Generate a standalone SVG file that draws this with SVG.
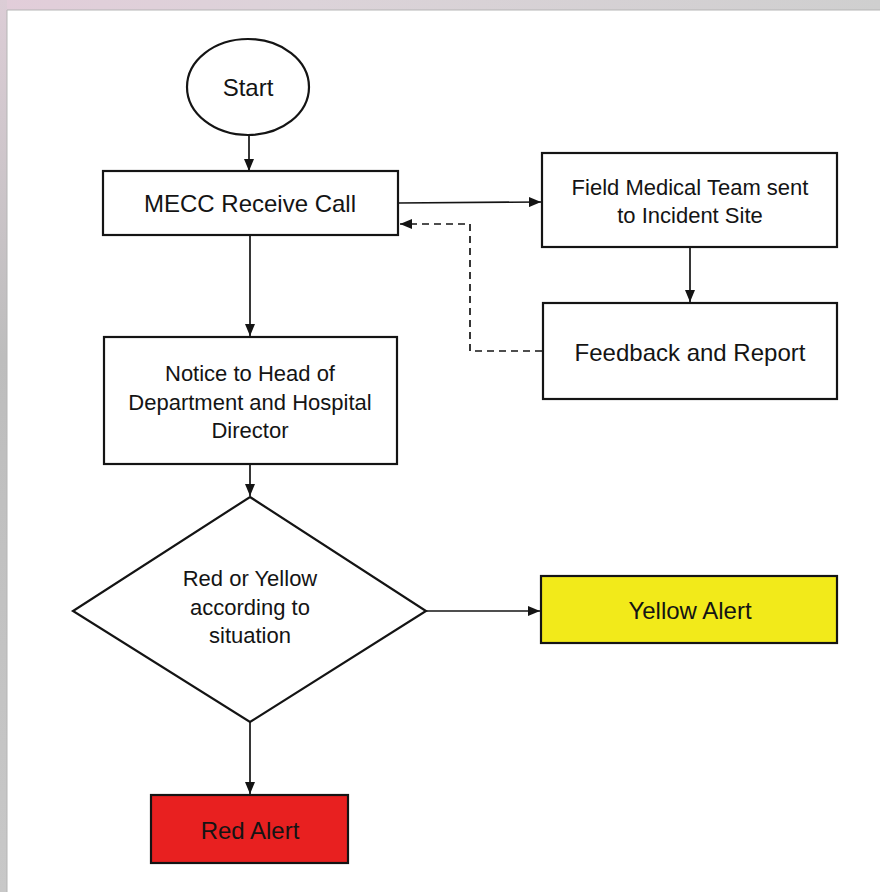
<svg xmlns="http://www.w3.org/2000/svg" width="880" height="892" viewBox="0 0 880 892">
<style>
.box{fill:#fff;stroke:#141414;stroke-width:2.2}
.lbl{font-family:"Liberation Sans",Arial,sans-serif;fill:#141414;text-anchor:middle;dominant-baseline:central}
.big{font-size:24px}
.mid{font-size:22px}
.con{fill:none;stroke:#141414;stroke-width:1.7}
.dash{stroke-dasharray:7,5}
</style>
<defs>
<marker id="ah" viewBox="0 0 12 10" refX="12" refY="5" markerWidth="12" markerHeight="10" markerUnits="userSpaceOnUse" orient="auto">
<path d="M0,0 L12,5 L0,10 z" fill="#141414"/>
</marker>
<linearGradient id="topg" x1="0" y1="0" x2="1" y2="0">
<stop offset="0" stop-color="#e2cdd9"/>
<stop offset="0.35" stop-color="#dcd3d9"/>
<stop offset="1" stop-color="#cfcfcf"/>
</linearGradient>
<linearGradient id="leftg" x1="0" y1="0" x2="0" y2="1">
<stop offset="0" stop-color="#dccdd6"/>
<stop offset="0.4" stop-color="#bdbdbd"/>
<stop offset="1" stop-color="#c8c8c8"/>
</linearGradient>
</defs>
<rect x="0" y="0" width="880" height="892" fill="#fff"/>
<rect x="0" y="0" width="880" height="10" fill="url(#topg)"/>
<rect x="0" y="0" width="7" height="892" fill="url(#leftg)"/>
<rect x="7" y="10" width="873" height="882" fill="#fff"/>
<line x1="7" y1="10" x2="880" y2="10" stroke="#b5b5b5" stroke-width="1"/>
<line x1="7" y1="10" x2="7" y2="892" stroke="#b5b5b5" stroke-width="1"/>

<g id="connectors">
<line class="con" x1="249" y1="135" x2="249" y2="171" marker-end="url(#ah)"/>
<line class="con" x1="398" y1="203" x2="541" y2="202" marker-end="url(#ah)"/>
<polyline class="con dash" points="542,351 470,351 470,224 400,224" marker-end="url(#ah)"/>
<line class="con" x1="690" y1="247" x2="690" y2="302" marker-end="url(#ah)"/>
<line class="con" x1="250" y1="235" x2="250" y2="336" marker-end="url(#ah)"/>
<line class="con" x1="250" y1="464" x2="250" y2="496" marker-end="url(#ah)"/>
<line class="con" x1="426" y1="611" x2="540" y2="611" marker-end="url(#ah)"/>
<line class="con" x1="250" y1="722" x2="250" y2="794" marker-end="url(#ah)"/>
</g>

<g id="start">
<ellipse class="box" cx="248" cy="87" rx="61" ry="48"/>
<text class="lbl big" x="248" y="87">Start</text>
</g>
<g id="mecc">
<rect class="box" x="103" y="171" width="295" height="64"/>
<text class="lbl big" x="250" y="203">MECC Receive Call</text>
</g>
<g id="field">
<rect class="box" x="542" y="153" width="295" height="94"/>
<text class="lbl mid" x="690" y="187">Field Medical Team sent</text>
<text class="lbl mid" x="690" y="215">to Incident Site</text>
</g>
<g id="feedback">
<rect class="box" x="543" y="303" width="294" height="96"/>
<text class="lbl big" x="690" y="352">Feedback and Report</text>
</g>
<g id="notice">
<rect class="box" x="104" y="337" width="293" height="127"/>
<text class="lbl mid" x="250" y="373">Notice to Head of</text>
<text class="lbl mid" x="250" y="402">Department and Hospital</text>
<text class="lbl mid" x="250" y="430">Director</text>
</g>
<g id="decision">
<polygon class="box" points="250,497 426,611 250,722 73,611"/>
<text class="lbl mid" x="250" y="578">Red or Yellow</text>
<text class="lbl mid" x="250" y="607">according to</text>
<text class="lbl mid" x="250" y="635">situation</text>
</g>
<g id="yellow">
<rect class="box" x="541" y="576" width="296" height="67" style="fill:#f2ea1a"/>
<text class="lbl big" x="690" y="610">Yellow Alert</text>
</g>
<g id="red">
<rect class="box" x="151" y="795" width="197" height="68" style="fill:#e82020"/>
<text class="lbl big" x="250" y="830">Red Alert</text>
</g>
</svg>
